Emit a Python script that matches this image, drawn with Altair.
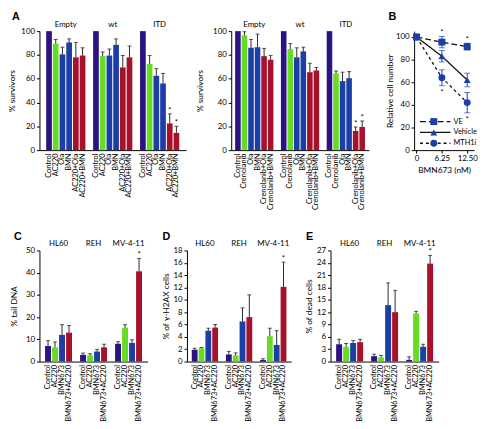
import altair as alt
import pandas as pd

FONT = "Lato"
PURPLE = "#2b1382"
GREEN = "#67dc24"
BLUE = "#1b3fa6"
RED = "#a6122c"
INK = "#111111"

# ---------------- Panel A (left): AC220 ----------------
a1_groups = ["Empty", "wt", "ITD"]
a1_treatments = ["Control", "AC220", "Ola", "BMN", "AC220+Ola", "AC220+BMN"]
a1_values = [
    [100, 89.5, 80.5, 90.5, 78, 79.5],
    [100, 79, 79.5, 88.5, 69.5, 78],
    [100, 72.5, 62.5, 56, 22.5, 14.5],
]
a1_errors = [
    [0, 3.5, 6, 3, 12.5, 6.5],
    [0, 3.5, 5.5, 5, 10, 9.5],
    [0, 7, 6, 8.5, 8, 5.5],
]
a1_stars = [("ITD", "AC220+Ola"), ("ITD", "AC220+BMN")]

# ---------------- Panel A (right): Crenolanib ----------------
a2_groups = ["Empty", "wt", "ITD"]
a2_treatments = ["Control", "Crenolanib", "Ola", "BMN", "Crenolanib+Ola", "Crenolanib+BMN"]
a2_values = [
    [100, 96.5, 86, 86.5, 79, 76],
    [100, 85, 78, 83, 65.5, 67],
    [100, 64.5, 58, 60.5, 16, 19.5],
]
a2_errors = [
    [0, 3, 7, 11, 6.5, 3.5],
    [0, 4.5, 8, 3.5, 7.5, 2.5],
    [0, 2, 7.5, 5.5, 3.5, 5],
]
a2_stars = [("ITD", "Crenolanib+Ola"), ("ITD", "Crenolanib+BMN")]

# ---------------- Panel B ----------------
b_doses = [0, 6.25, 12.5]
b_series = ["VE", "Vehicle", "MTH1i"]
b_values = [
    [100, 95.5, 91.5],
    [100, 83, 62],
    [100, 64, 42],
]
b_errors = [
    [0, 5, 3],
    [0, 5, 6],
    [0, 7, 9],
]
b_stars_up = [("VE", 6.25), ("VE", 12.5)]
b_stars_down = [("MTH1i", 6.25), ("MTH1i", 12.5)]

# ---------------- Panels C, D, E ----------------
cell_lines = ["HL60", "REH", "MV-4-11"]
cde_treatments = ["Control", "AC220", "BMN673", "BMN673+AC220"]
c_values = [[7, 6.4, 12, 13], [3, 2.8, 4.5, 6.4], [8, 15.2, 8.4, 40.6]]
c_errors = [[2.4, 2.4, 4.6, 3.2], [0.8, 0.7, 1, 1.4], [0.9, 1.4, 1.4, 5.8]]
d_values = [[1.9, 2.15, 5.0, 5.5], [1.15, 1.0, 6.5, 7.2], [0.25, 4.1, 2.7, 12.1]]
d_errors = [[0.25, 0.12, 0.4, 0.5], [0.5, 0.4, 2.2, 3.6], [0.2, 1.3, 2.3, 4.0]]
e_values = [[4.2, 3.6, 4.5, 4.7], [1.3, 1.0, 13.7, 12.0], [0.4, 11.7, 3.6, 23.8]]
e_errors = [[1.2, 0.8, 0.6, 0.7], [0.5, 0.5, 5.4, 5.3], [0.75, 0.5, 0.6, 2.0]]
cde_stars = [("MV-4-11", "BMN673+AC220")]

colors6 = [PURPLE, GREEN, BLUE, BLUE, RED, RED]
colors4 = [PURPLE, GREEN, BLUE, RED]


def letter_layer(letter, dx, dy):
    return alt.Chart(pd.DataFrame({"t": [letter]})).mark_text(
        fontWeight="bold", fontSize=11, align="left", baseline="alphabetic", font="Liberation Sans"
    ).encode(x=alt.value(dx), y=alt.value(dy), text="t:N")


def bar_panel(groups, treatments, values, errors, stars, colors, width, height,
              ymax, yticks, ytitle, letter, ldx, ldy, pad_outer, title_x):
    rows, domain = [], []
    for gi, g in enumerate(groups):
        for ti, t in enumerate(treatments):
            key = f"{g}|{t}"
            domain.append(key)
            v, e = values[gi][ti], errors[gi][ti]
            rows.append(dict(key=key, value=v, top=v + e, has_err=e > 0,
                             star="*" if (g, t) in stars else "", color=colors[ti]))
        if gi < len(groups) - 1:
            domain.append(f"gap{gi}")
    df = pd.DataFrame(rows)
    mid = len(treatments) // 2 - 1
    hdf = pd.DataFrame({"group": groups, "key": [f"{g}|{treatments[mid]}" for g in groups]})

    xscale = alt.Scale(domain=domain, paddingInner=0.15, paddingOuter=pad_outer)
    xaxis = alt.Axis(title=None, labelExpr="indexof(datum.value, '|') >= 0 ? split(datum.value, '|')[1] : ''",
                     labelAngle=-90, ticks=False, labelPadding=3, labelFontSize=7.5)
    x = alt.X("key:N", scale=xscale, axis=xaxis)
    yscale = alt.Scale(domain=[0, ymax], nice=False, zero=True)
    yaxis = alt.Axis(values=yticks, title=ytitle, tickSize=3, titleX=title_x,
                     labelOverlap=False, labelBound=False)
    y = alt.Y("value:Q", scale=yscale, axis=yaxis)
    y_top = alt.Y("top:Q", scale=yscale, axis=yaxis)

    base = alt.Chart(df)
    bars = base.mark_bar().encode(x=x, y=y, color=alt.Color("color:N", scale=None))
    rules = base.transform_filter("datum.has_err").mark_rule(color=INK, strokeWidth=0.9).encode(
        x=x, y=y, y2="top:Q")
    caps = base.transform_filter("datum.has_err").mark_tick(
        orient="horizontal", color=INK, size=4, thickness=1).encode(x=x, y=y_top)
    star = base.transform_filter("datum.star != ''").mark_text(
        baseline="alphabetic", dy=-1, fontSize=8).encode(x=x, y=y_top, text="star:N")
    heads = alt.Chart(hdf).mark_text(fontSize=8, baseline="alphabetic", dx=0.5).encode(
        x=alt.X("key:N", scale=xscale, axis=xaxis, bandPosition=1), y=alt.value(-4), text="group:N")
    layers = [bars, rules, caps, star, heads]
    if letter:
        layers.append(letter_layer(letter, ldx, ldy))
    return alt.layer(*layers).properties(width=width, height=height)


# ---- Panel B ----
brows = []
for si, s in enumerate(b_series):
    for di, d in enumerate(b_doses):
        v, e = b_values[si][di], b_errors[si][di]
        brows.append(dict(series=s, dose=d, value=v, lo=v - e, hi=v + e, has_err=e > 0,
                          up="*" if (s, d) in b_stars_up else "",
                          down="*" if (s, d) in b_stars_down else ""))
bdf = pd.DataFrame(brows)
bxscale = alt.Scale(domain=[-0.6, 14.2], nice=False, zero=False)
byscale = alt.Scale(domain=[0, 105.2], nice=False)
bxaxis = alt.Axis(values=b_doses, title="BMN673 (nM)", tickSize=3,
                  labelExpr="datum.value == 0 ? '0' : format(datum.value, '.2f')",
                  titlePadding=3, labelOverlap=False)
byaxis = alt.Axis(values=[0, 20, 40, 60, 80, 100], title="Relative cell number",
                  tickSize=3, titleX=-20, labelOverlap=False, labelBound=False)
bx = alt.X("dose:Q", scale=bxscale, axis=bxaxis)
by = alt.Y("value:Q", scale=byscale, axis=byaxis)
by_lo = alt.Y("lo:Q", scale=byscale, axis=byaxis)
by_hi = alt.Y("hi:Q", scale=byscale, axis=byaxis)
dash_scale = alt.Scale(domain=b_series, range=[[6, 3], [1, 0], [3, 3]])
shape_scale = alt.Scale(domain=b_series, range=["square", "triangle-up", "circle"])
bb = alt.Chart(bdf)
b_lines = bb.mark_line(color=INK, strokeWidth=1.3).encode(
    x=bx, y=by, detail="series:N", strokeDash=alt.StrokeDash("series:N", scale=dash_scale, legend=None))
b_err = bb.transform_filter("datum.has_err").mark_rule(color=BLUE, strokeWidth=1).encode(
    x=bx, y=by_lo, y2="hi:Q")
b_cap_hi = bb.transform_filter("datum.has_err").mark_tick(
    orient="horizontal", color=BLUE, size=6, thickness=1).encode(x=bx, y=by_hi)
b_cap_lo = bb.transform_filter("datum.has_err").mark_tick(
    orient="horizontal", color=BLUE, size=6, thickness=1).encode(x=bx, y=by_lo)
b_pts = bb.mark_point(filled=True, opacity=1, size=50, color=BLUE).encode(
    x=bx, y=by, shape=alt.Shape("series:N", scale=shape_scale, legend=None))
b_up = bb.transform_filter("datum.up != ''").mark_text(baseline="alphabetic", dy=-1, fontSize=8).encode(
    x=bx, y=by_hi, text="up:N")
b_down = bb.transform_filter("datum.down != ''").mark_text(baseline="top", dy=3, fontSize=8).encode(
    x=bx, y=by_lo, text="down:N")

legend_layers = []
dashes = [[6, 3], [1, 0], [3, 3]]
shapes = ["square", "triangle-up", "circle"]
for i, s in enumerate(b_series):
    ly = 92 + 11 * i
    one = alt.Chart(pd.DataFrame({"t": [s]}))
    legend_layers.append(one.mark_rule(color=INK, strokeWidth=1.3, strokeDash=dashes[i]).encode(
        x=alt.value(6), x2=alt.value(37), y=alt.value(ly)))
    legend_layers.append(one.mark_point(filled=True, opacity=1, size=50, color=BLUE, shape=shapes[i]).encode(
        x=alt.value(20), y=alt.value(ly)))
    legend_layers.append(one.mark_text(align="left", baseline="middle", fontSize=7.5).encode(
        x=alt.value(40), y=alt.value(ly), text="t:N"))

panel_b = alt.layer(b_lines, b_err, b_cap_hi, b_cap_lo, b_pts, b_up, b_down,
                    letter_layer("B", -26, -11), *legend_layers).properties(width=61, height=121)

panel_a1 = bar_panel(a1_groups, a1_treatments, a1_values, a1_errors, a1_stars, colors6,
                     149, 121, 100, [0, 20, 40, 60, 80, 100], "% survivors", "A", -28, -11, 1.0, -23)
panel_a2 = bar_panel(a2_groups, a2_treatments, a2_values, a2_errors, a2_stars, colors6,
                     140, 121, 100, [0, 20, 40, 60, 80, 100], "% survivors", "", 0, 0, 0.6, -27)
panel_c = bar_panel(cell_lines, cde_treatments, c_values, c_errors, cde_stars, colors4,
                    110, 113, 50, [0, 10, 20, 30, 40, 50], "% tail DNA", "C", -26, -11, 0.8, -21)
panel_d = bar_panel(cell_lines, cde_treatments, d_values, d_errors, cde_stars, colors4,
                    106, 113, 18, list(range(0, 19, 2)), "% of γ-H2AX cells", "D", -25, -11, 0.7, -17)
panel_e = bar_panel(cell_lines, cde_treatments, e_values, e_errors, cde_stars, colors4,
                    110, 113, 27, list(range(0, 28, 3)), "% of dead cells", "E", -25, -11, 0.8, -17)

top = alt.hconcat(panel_a1, panel_a2, panel_b, spacing=46, bounds="flush")
bottom = alt.hconcat(panel_c, panel_d, panel_e, spacing=40, bounds="flush")

chart = alt.vconcat(top, bottom, spacing=21).properties(
    padding={"left": 0, "top": 0, "right": 2, "bottom": 0}
).configure_view(stroke=None).configure_axis(
    labelFont=FONT, titleFont=FONT, labelColor="black", titleColor="black",
    domainColor="black", tickColor="black", labelFontSize=8, titleFontSize=8.5,
    titleFontWeight="normal", grid=False, domainWidth=1, tickWidth=1,
    labelOverlap=False, labelBound=False
).configure_text(font=FONT, color="black")

chart.save("out.html", embed_options={"renderer": "svg", "actions": False})
